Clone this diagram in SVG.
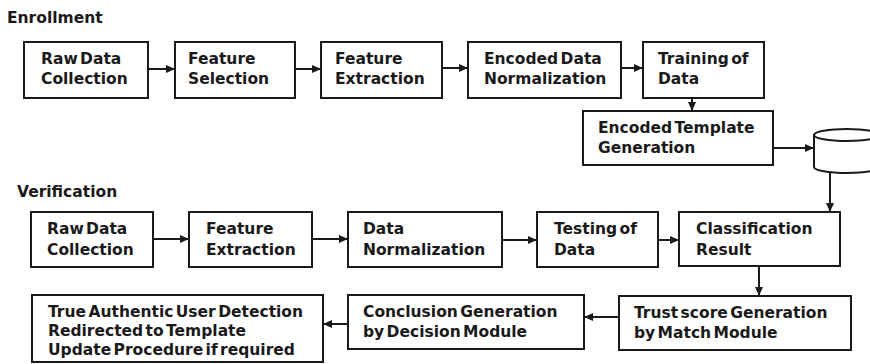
<svg xmlns="http://www.w3.org/2000/svg" width="870" height="364" viewBox="0 0 870 364">
  <defs>
    <marker id="arrow" markerUnits="userSpaceOnUse" markerWidth="10" markerHeight="8" refX="9" refY="4" orient="auto">
      <path d="M0,0 L9,4 L0,8 Z" fill="#1a1a1a"/>
    </marker>
    <style>
      .box { fill: #ffffff; stroke: #1a1a1a; stroke-width: 2; }
      .lbl { font-family: "DejaVu Sans", "Liberation Sans", sans-serif; font-weight: bold; font-size: 15.5px; word-spacing: -3px; fill: #1a1a1a; }
      .title { font-family: "DejaVu Sans", "Liberation Sans", sans-serif; font-weight: bold; font-size: 15.5px; fill: #1a1a1a; }
      .edge { fill: none; stroke: #1a1a1a; stroke-width: 2; marker-end: url(#arrow); }
    </style>
  </defs>

  <rect width="870" height="364" fill="#ffffff"/>

  <!-- section headings -->
  <text class="title" x="7" y="23">Enrollment</text>
  <text class="title" x="17" y="197">Verification</text>

  <!-- enrollment pipeline -->
  <g id="enr-raw">
    <rect class="box" x="24" y="42" width="124" height="56"/>
    <text class="lbl" x="41" y="64">Raw Data</text>
    <text class="lbl" x="41" y="84">Collection</text>
  </g>
  <g id="enr-select">
    <rect class="box" x="175" y="42" width="120" height="56"/>
    <text class="lbl" x="188" y="64">Feature</text>
    <text class="lbl" x="188" y="84">Selection</text>
  </g>
  <g id="enr-extract">
    <rect class="box" x="321" y="42" width="121" height="56"/>
    <text class="lbl" x="335" y="64">Feature</text>
    <text class="lbl" x="335" y="84">Extraction</text>
  </g>
  <g id="enr-normalize">
    <rect class="box" x="468" y="42" width="153" height="56"/>
    <text class="lbl" x="484" y="64">Encoded Data</text>
    <text class="lbl" x="484" y="84">Normalization</text>
  </g>
  <g id="enr-train">
    <rect class="box" x="643" y="42" width="121" height="56"/>
    <text class="lbl" x="658" y="64">Training of</text>
    <text class="lbl" x="658" y="84">Data</text>
  </g>
  <g id="enr-template">
    <rect class="box" x="583" y="111" width="190" height="54"/>
    <text class="lbl" x="598" y="133">Encoded Template</text>
    <text class="lbl" x="598" y="153">Generation</text>
  </g>
  <g id="template-db">
    <path class="box" d="M814,135 L814,167 A33,6 0 0 0 880,167 L880,135 Z"/>
    <ellipse class="box" cx="847" cy="135" rx="33" ry="6"/>
  </g>

  <!-- verification pipeline -->
  <g id="ver-raw">
    <rect class="box" x="31" y="212" width="122" height="55"/>
    <text class="lbl" x="47" y="234">Raw Data</text>
    <text class="lbl" x="47" y="255">Collection</text>
  </g>
  <g id="ver-extract">
    <rect class="box" x="189" y="212" width="123" height="55"/>
    <text class="lbl" x="206" y="234">Feature</text>
    <text class="lbl" x="206" y="255">Extraction</text>
  </g>
  <g id="ver-normalize">
    <rect class="box" x="348" y="212" width="154" height="55"/>
    <text class="lbl" x="363" y="234">Data</text>
    <text class="lbl" x="363" y="255">Normalization</text>
  </g>
  <g id="ver-test">
    <rect class="box" x="537" y="212" width="121" height="55"/>
    <text class="lbl" x="554" y="234">Testing of</text>
    <text class="lbl" x="554" y="255">Data</text>
  </g>
  <g id="ver-classify">
    <rect class="box" x="679" y="212" width="161" height="54"/>
    <text class="lbl" x="696" y="234">Classification</text>
    <text class="lbl" x="696" y="255">Result</text>
  </g>
  <g id="ver-trust">
    <rect class="box" x="619" y="296" width="232" height="54"/>
    <text class="lbl" x="634" y="318">Trust score Generation</text>
    <text class="lbl" x="634" y="338">by Match Module</text>
  </g>
  <g id="ver-conclude">
    <rect class="box" x="348" y="295" width="236" height="54"/>
    <text class="lbl" x="363" y="317">Conclusion Generation</text>
    <text class="lbl" x="363" y="337">by Decision Module</text>
  </g>
  <g id="ver-detect">
    <rect class="box" x="32" y="295" width="291" height="67"/>
    <text class="lbl" x="48" y="317">True Authentic User Detection</text>
    <text class="lbl" x="48" y="336">Redirected to Template</text>
    <text class="lbl" x="48" y="355">Update Procedure if required</text>
  </g>

  <!-- connectors -->
  <g id="connectors">
    <line class="edge" x1="148" y1="69" x2="175" y2="69"/>
    <line class="edge" x1="295" y1="69" x2="321" y2="69"/>
    <line class="edge" x1="442" y1="68" x2="468" y2="68"/>
    <line class="edge" x1="621" y1="68" x2="643" y2="68"/>
    <line class="edge" x1="692" y1="98" x2="692" y2="111"/>
    <line class="edge" x1="773" y1="148" x2="814" y2="148"/>
    <line class="edge" x1="830" y1="172" x2="830" y2="212"/>
    <line class="edge" x1="153" y1="239" x2="189" y2="239"/>
    <line class="edge" x1="312" y1="239" x2="348" y2="239"/>
    <line class="edge" x1="502" y1="240" x2="537" y2="240"/>
    <line class="edge" x1="658" y1="240" x2="679" y2="240"/>
    <line class="edge" x1="759" y1="266" x2="759" y2="296"/>
    <line class="edge" x1="619" y1="317" x2="584" y2="317"/>
    <line class="edge" x1="348" y1="324" x2="323" y2="324"/>
  </g>
</svg>
